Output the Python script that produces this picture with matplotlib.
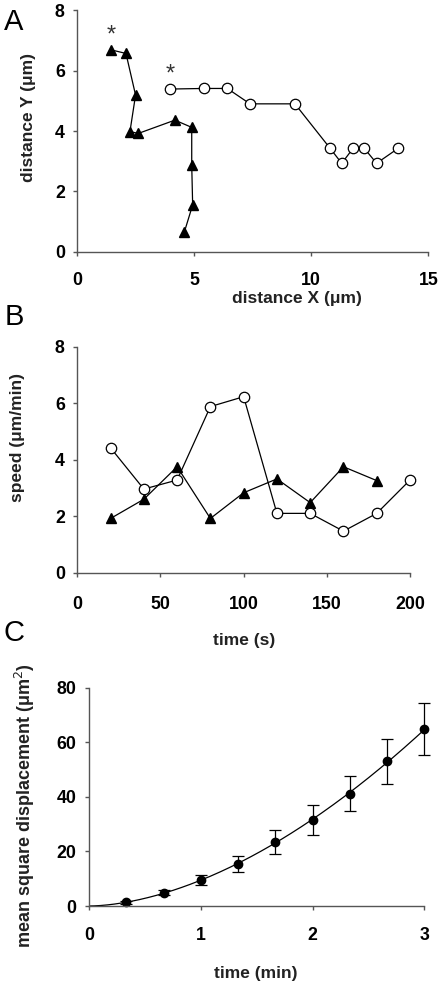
import matplotlib.pyplot as plt
import numpy as np

plt.rcParams['font.family'] = ['Liberation Sans', 'DejaVu Sans']

# Panel A: cell tracks (distance X, distance Y in um)
track1_x = [1.44, 2.08, 2.49, 2.25, 2.61, 4.17, 4.89, 4.89, 4.93, 4.57]
track1_y = [6.69, 6.57, 5.19, 3.98, 3.92, 4.36, 4.12, 2.87, 1.55, 0.64]
track2_x = [3.96, 5.41, 6.41, 7.38, 9.30, 10.80, 11.30, 11.79, 12.26, 12.79, 13.72]
track2_y = [5.39, 5.41, 5.41, 4.90, 4.90, 3.43, 2.93, 3.43, 3.43, 2.93, 3.43]

# Panel B: speed over time
time1 = [20, 40, 60, 80, 100, 120, 140, 160, 180]
speed1 = [1.92, 2.60, 3.75, 1.92, 2.83, 3.32, 2.48, 3.75, 3.26]
time2 = [20, 40, 60, 80, 100, 120, 140, 160, 180, 200]
speed2 = [4.42, 2.96, 3.28, 5.88, 6.23, 2.10, 2.10, 1.47, 2.10, 3.28]

# Panel C: mean square displacement
msd_t = [1/3, 2/3, 1, 4/3, 5/3, 2, 7/3, 8/3, 3]
msd = [1.3, 4.9, 9.5, 15.4, 23.3, 31.5, 41.1, 53.0, 64.8]
msd_err = [0.5, 0.8, 1.8, 2.8, 4.4, 5.5, 6.4, 8.3, 9.6]

W, H = 442, 988
fig = plt.figure(figsize=(W / 100, H / 100), dpi=100)


def box(l, r, t, b):
    return [l / W, 1 - b / H, (r - l) / W, (b - t) / H]


def style(ax, xlim, ylim, xticks, yticks, xpad):
    ax.set_xlim(*xlim)
    ax.set_ylim(*ylim)
    ax.set_xticks(xticks)
    ax.set_yticks(yticks)
    for s in ['top', 'right']:
        ax.spines[s].set_visible(False)
    for s in ['left', 'bottom']:
        ax.spines[s].set_color('#555555')
        ax.spines[s].set_linewidth(1.0)
    ax.tick_params(direction='out', length=3, width=1.0, color='#555555',
                   labelsize=12.8)
    ax.tick_params(axis='y', pad=6)
    ax.tick_params(axis='x', pad=xpad)
    for lab in ax.get_xticklabels() + ax.get_yticklabels():
        lab.set_fontweight('bold')


def ftext(x, y, s, **kw):
    fig.text(x / W, 1 - y / H, s, ha='center', va='center', **kw)


lab_kw = dict(fontsize=12.5, fontweight='bold', color='#222222')

# ---- A ----
axA = fig.add_axes(box(77.3, 428.3, 10.3, 251.7))
axA.plot(track1_x, track1_y, '-^', color='black', lw=0.9, ms=6.5,
         mfc='black', mec='black', clip_on=False)
axA.plot(track2_x, track2_y, '-o', color='black', lw=0.9, ms=7.5,
         mfc='white', mec='black', mew=0.9, clip_on=False)
axA.text(track1_x[0], track1_y[0] + 0.12, '*', ha='center', va='bottom',
         fontsize=17, color='#333333')
axA.text(track2_x[0], track2_y[0] + 0.12, '*', ha='center', va='bottom',
         fontsize=17, color='#333333')
style(axA, (0, 15), (0, 8), [0, 5, 10, 15], [0, 2, 4, 6, 8], xpad=11.5)
ftext(297, 298, 'distance X (μm)', **lab_kw)
ftext(28, 118, 'distance Y (μm)', rotation=90, **lab_kw)
ftext(14, 22, 'A', fontsize=21)

# ---- B ----
axB = fig.add_axes(box(77.3, 410.0, 346.7, 572.7))
axB.plot(time1, speed1, '-^', color='black', lw=0.9, ms=6.5,
         mfc='black', mec='black', clip_on=False)
axB.plot(time2, speed2, '-o', color='black', lw=0.9, ms=7.5,
         mfc='white', mec='black', mew=0.9, clip_on=False)
style(axB, (0, 200), (0, 8), [0, 50, 100, 150, 200], [0, 2, 4, 6, 8], xpad=13.5)
ftext(244, 640, 'time (s)', **lab_kw)
ftext(18, 437, 'speed (μm/min)', rotation=90, **lab_kw)
ftext(14, 317, 'B', fontsize=21)

# ---- C ----
axC = fig.add_axes(box(89.0, 424.3, 687.7, 906.0))
# power-law fit through the means
p = np.polyfit(np.log(msd_t), np.log(msd), 1, w=np.sqrt(msd))
tt = np.linspace(0, 3, 200)
axC.plot(tt, np.exp(p[1]) * tt ** p[0], color='black', lw=0.9)
axC.errorbar(msd_t, msd, yerr=msd_err, fmt='o', color='black', ms=6,
             elinewidth=0.9, capsize=4, capthick=0.9, clip_on=False)
style(axC, (0, 3), (0, 80), [0, 1, 2, 3], [0, 20, 40, 60, 80], xpad=12)
ftext(256, 973, 'time (min)', **lab_kw)
ftext(25, 806, 'mean square displacement (μm$^2$)', rotation=90,
      fontsize=13, fontweight='bold', color='#222222')
ftext(14, 633, 'C', fontsize=21)

fig.savefig('out.png', dpi=100)
